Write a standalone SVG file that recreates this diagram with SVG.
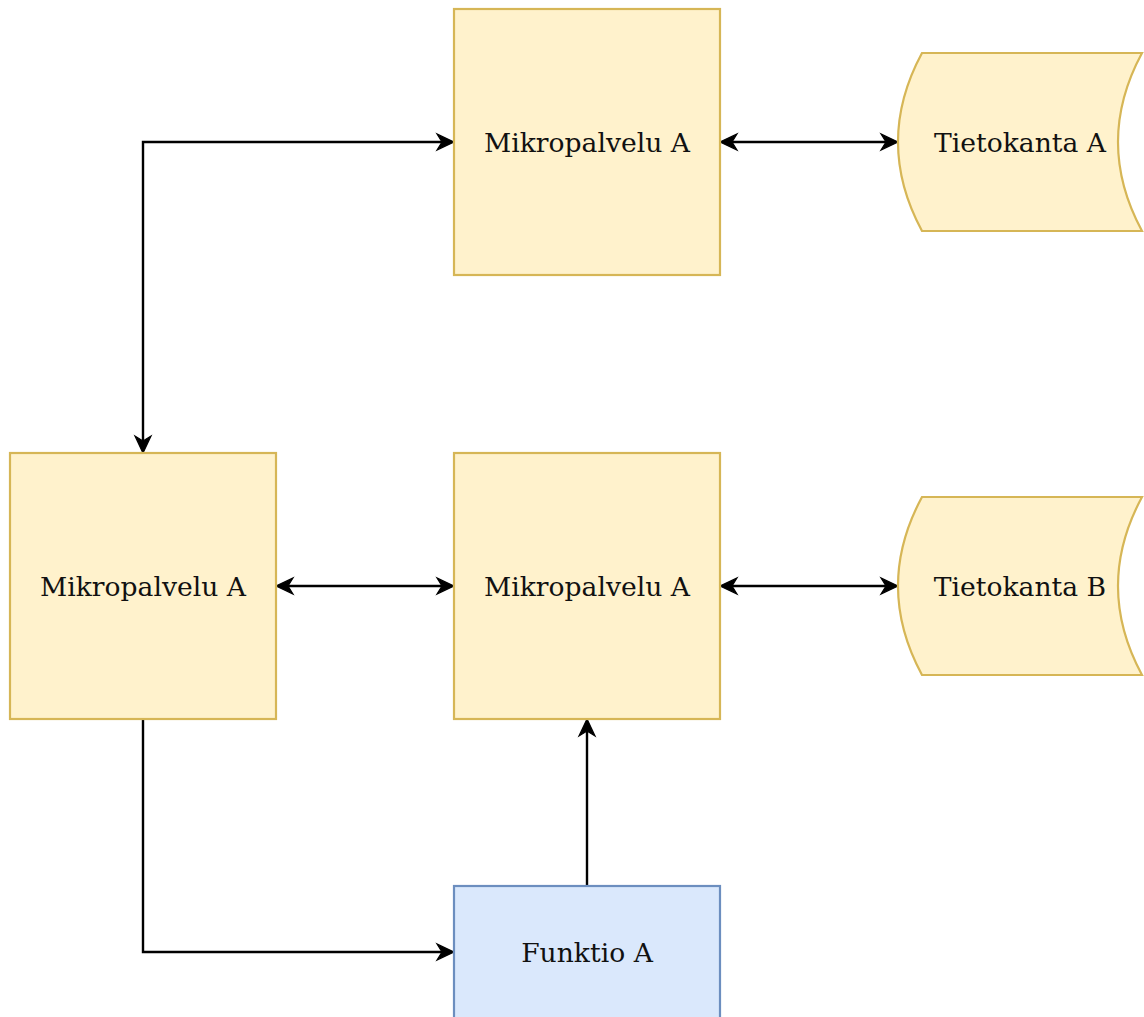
<svg xmlns="http://www.w3.org/2000/svg" width="1144" height="1017" viewBox="0 0 1144 1017">
<style>
.ms{fill:#fff2cc;stroke:#d6b656;stroke-width:2.2}
.fn{fill:#dae8fc;stroke:#6c8ebf;stroke-width:2.2}
.lbl{font-family:"DejaVu Serif",serif;font-size:26.6px;fill:#111;text-anchor:middle}
.c{fill:none;stroke:#000;stroke-width:2.4;marker-end:url(#ah)}
.b{marker-start:url(#ah)}
</style>
<defs>
<marker id="ah" markerUnits="userSpaceOnUse" viewBox="-8 -10 24 20" refX="0" refY="0" markerWidth="24" markerHeight="20" orient="auto-start-reverse" overflow="visible">
<path d="M12,0 L-5,-8 L0,0 L-5,8 Z" fill="#000" stroke="#000" stroke-width="1.2" stroke-linejoin="miter"/>
</marker>
</defs>
<rect width="1144" height="1017" fill="#fff"/>
<g id="connectors">
<path class="c b" d="M143,441 L143,142 L442,142"/>
<path class="c b" d="M732,142 L886,142"/>
<path class="c b" d="M288,586 L442,586"/>
<path class="c b" d="M732,586 L886,586"/>
<path class="c" d="M587,886 L587,731"/>
<path class="c" d="M143,719 L143,952 L442,952"/>
</g>
<g id="mikropalvelu-top">
<rect class="ms" x="454" y="9" width="266" height="266"/>
<text class="lbl" x="587" y="151.5">Mikropalvelu A</text>
</g>
<g id="mikropalvelu-left">
<rect class="ms" x="10" y="453" width="266" height="266"/>
<text class="lbl" x="143" y="595.5">Mikropalvelu A</text>
</g>
<g id="mikropalvelu-middle">
<rect class="ms" x="454" y="453" width="266" height="266"/>
<text class="lbl" x="587" y="595.5">Mikropalvelu A</text>
</g>
<g id="tietokanta-a">
<path class="ms" d="M922,53 L1142,53 Q1094,142 1142,231 L922,231 Q874,142 922,53 Z"/>
<text class="lbl" x="1020" y="151.5">Tietokanta A</text>
</g>
<g id="tietokanta-b">
<path class="ms" d="M922,497 L1142,497 Q1094,586 1142,675 L922,675 Q874,586 922,497 Z"/>
<text class="lbl" x="1020" y="595.5">Tietokanta B</text>
</g>
<g id="funktio-a">
<rect class="fn" x="454" y="886" width="266" height="266"/>
<text class="lbl" x="587" y="961.5">Funktio A</text>
</g>
</svg>
